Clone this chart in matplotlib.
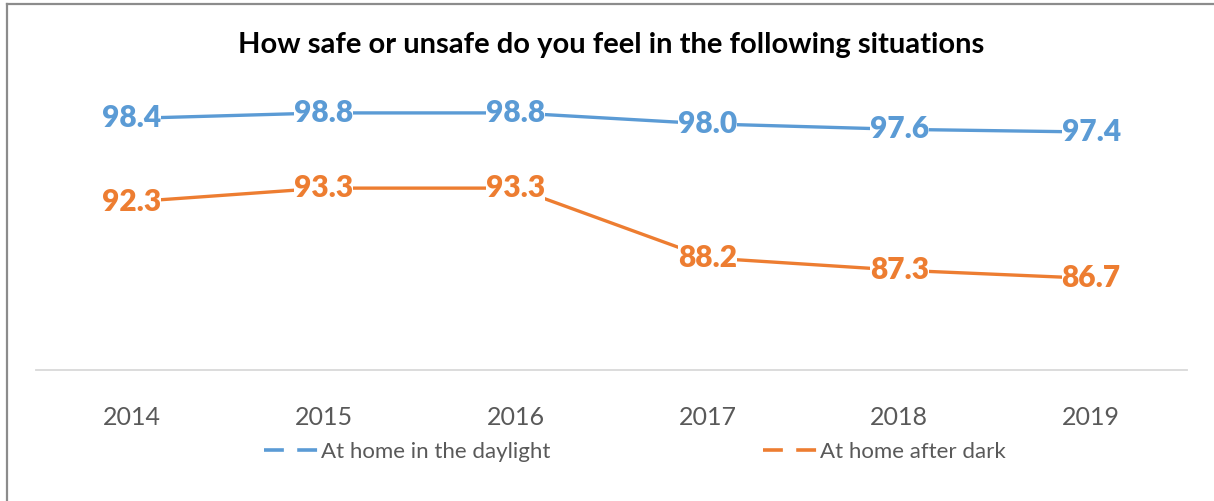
import matplotlib
matplotlib.use("Agg")
import matplotlib.pyplot as plt
from matplotlib.lines import Line2D

# chart data
years = ["2014", "2015", "2016", "2017", "2018", "2019"]
daylight = [98.4, 98.8, 98.8, 98.0, 97.6, 97.4]
after_dark = [92.3, 93.3, 93.3, 88.2, 87.3, 86.7]
series_names = ["At home in the daylight", "At home after dark"]
title_text = "How safe or unsafe do you feel in the following situations"

BLUE = "#5B9BD5"
ORANGE = "#ED7D31"
GREY_TEXT = "#595959"

plt.rcParams['font.family'] = ['Lato', 'DejaVu Sans']

fig = plt.figure(figsize=(12.14, 5.01), dpi=100)
ax = fig.add_axes([36 / 1214, 1 - 370 / 501, (1187 - 36) / 1214, (370 - 96.5) / 501])

x = list(range(len(years)))
for values, color in [(daylight, BLUE), (after_dark, ORANGE)]:
    ax.plot(x, values, color=color, linewidth=2.4, solid_capstyle='round', zorder=2)
    for xi, v in zip(x, values):
        ax.text(xi, v, f"{v:.1f}", color=color, fontsize=21.5, fontweight='heavy',
                ha='center', va='center', zorder=3,
                bbox=dict(facecolor='white', edgecolor='none', pad=0))

ax.set_xlim(-0.5, len(years) - 0.5)
ax.set_ylim(80, 100)
ax.set_xticks(x)
ax.set_xticklabels(years, fontsize=18, color=GREY_TEXT)
ax.tick_params(axis='x', length=0, pad=26)
ax.set_yticks([])

for side in ['top', 'right', 'left']:
    ax.spines[side].set_visible(False)
ax.spines['bottom'].set_color('#D9D9D9')
ax.spines['bottom'].set_linewidth(1.3)

fig.text(0.503, 1 - 45 / 501, title_text, fontsize=21, fontweight='bold',
         ha='center', va='center', color='black')

# legend with dashed handles
handles = [Line2D([0], [0], color=c, linewidth=2.6, dashes=(5.5, 3.7))
           for c in (BLUE, ORANGE)]
fig.legend(handles, series_names, loc='center', bbox_to_anchor=(0.523, 1 - 452 / 501),
           ncol=2, frameon=False, fontsize=16, labelcolor=GREY_TEXT,
           handlelength=2.45, handletextpad=0.1, columnspacing=9.6)

# border lines on top and left of the chart area
fig.add_artist(Line2D([7 / 1214, 7 / 1214], [0, 1 - 4 / 501], color='#8C8C8C', linewidth=1.6))
fig.add_artist(Line2D([7 / 1214, 1], [1 - 4 / 501, 1 - 4 / 501], color='#8C8C8C', linewidth=1.6))

fig.savefig("out.png", dpi=100)
